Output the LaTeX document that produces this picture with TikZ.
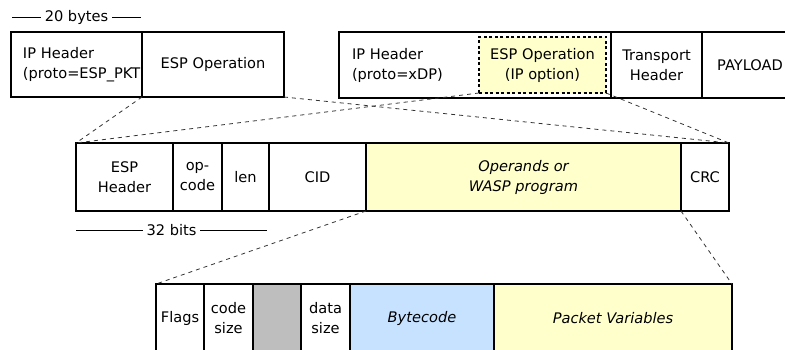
\documentclass[tikz,border=0pt]{standalone}
\usepackage{fontspec}
\setmainfont{DejaVu Sans}
\usetikzlibrary{positioning}
\definecolor{opyellow}{RGB}{255,255,204}
\definecolor{bcblue}{RGB}{198,226,255}
\definecolor{padgray}{RGB}{190,190,190}

\begin{document}
\begin{tikzpicture}[x=1pt,y=-1pt,font=\fontsize{14.6}{20}\selectfont,
  fld/.style={draw,line width=1.6pt,anchor=north west,inner sep=0pt,outer sep=0pt,align=center,fill=white},
  slnt/.style={font=\fontsize{14.6}{20}\selectfont\itshape},
  zoomln/.style={dashed,dash pattern=on 4pt off 4pt,line width=0.8pt,black!80},
  dimlbl/.style={fill=white,inner xsep=4pt,inner ysep=1pt}]
\useasboundingbox (0,0) rectangle (785,350);
% top rows: the two packet formats
\node[fld,minimum width=131pt,minimum height=65pt,text width=107pt,align=left] (ipA) at (11,32) {IP Header\\(proto=ESP\_PKT)};
\node[fld,minimum width=142pt,minimum height=65pt] (espA) at (142,32) {ESP Operation};
\node[fld,minimum width=272pt,minimum height=66pt,text width=246pt,align=left] (ipB) at (339,32) {IP Header\\(proto=xDP)};
\node[fld,minimum width=127pt,minimum height=56pt,fill=opyellow,dash pattern=on 3pt off 2.5pt] (espB) at (479,37) {ESP Operation\\(IP option)};
\node[fld,minimum width=91pt,minimum height=66pt] (trB) at (611,32) {Transport\\Header};
\node[fld,minimum width=96pt,minimum height=66pt] (payB) at (702,32) {PAYLOAD};
\draw[line width=0.6pt] (12,17) -- node[dimlbl] (b20) {20 bytes} (141,17);
% middle row: ESP operation
\node[fld,minimum width=97pt,minimum height=68pt] (esp) at (76,143) {ESP\\Header};
\node[fld,minimum width=49pt,minimum height=68pt] (opc) at (173,143) {op-\\code};
\node[fld,minimum width=47pt,minimum height=68pt] (len) at (222,143) {len};
\node[fld,minimum width=97pt,minimum height=68pt] (cid) at (269,143) {CID};
\node[fld,minimum width=315pt,minimum height=68pt,fill=opyellow,slnt] (opd) at (366,143) {Operands or\\WASP program};
\node[fld,minimum width=48pt,minimum height=68pt] (crc) at (681,143) {CRC};
\draw[line width=0.6pt] (76,230) -- node[dimlbl] (b32) {32 bits} (267,230);
% bottom row: WASP program
\node[fld,minimum width=48pt,minimum height=68pt] (flg) at (156,284) {Flags};
\node[fld,minimum width=49pt,minimum height=68pt] (csz) at (204,284) {code\\size};
\node[fld,minimum width=48pt,minimum height=68pt,fill=padgray] (pad) at (253,284) {};
\node[fld,minimum width=49pt,minimum height=68pt] (dsz) at (301,284) {data\\size};
\node[fld,minimum width=144pt,minimum height=68pt,fill=bcblue,slnt] (byt) at (350,284) {Bytecode};
\node[fld,minimum width=238pt,minimum height=68pt,fill=opyellow,slnt] (pkv) at (494,284) {Packet Variables};
% zoom lines
\foreach \a/\b in {espA.south west/esp.north west,espA.south east/crc.north east,
  espB.south west/esp.north west,espB.south east/crc.north east,
  opd.south west/flg.north west,opd.south east/pkv.north east}
  \draw[zoomln] (\a) -- (\b);
\end{tikzpicture}
\end{document}
